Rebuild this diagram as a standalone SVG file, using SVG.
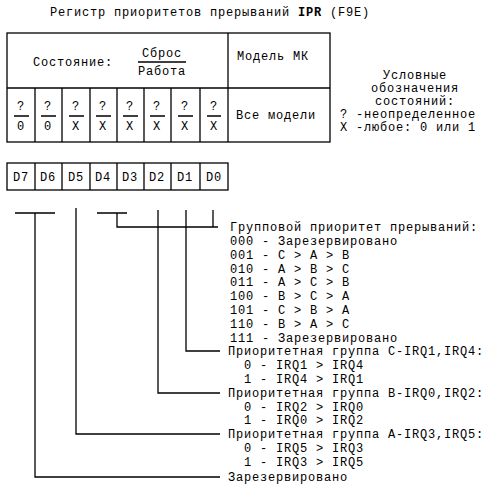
<svg xmlns="http://www.w3.org/2000/svg" width="499" height="487" viewBox="0 0 499 487">
<style>
text{font-family:"Liberation Mono","DejaVu Sans Mono",monospace;font-size:12px;letter-spacing:0.8px;fill:#000}
.c{text-anchor:middle}
.b{fill:none;stroke:#000;stroke-width:1.3}
.w{fill:none;stroke:#000;stroke-width:1.3}
</style>
<rect width="499" height="487" fill="#fff"/>
<g id="title"><text x="50" y="16">Регистр приоритетов прерываний <tspan font-weight="bold">IPR</tspan> (F9E)</text></g>
<g id="state-table">
<rect class="b" x="7" y="33" width="323" height="109"/>
<line class="b" x1="7" y1="88" x2="330" y2="88"/>
<line class="b" x1="228" y1="33" x2="228" y2="142"/>
<path class="b" d="M35 88V142M62 88V142M90 88V142M117 88V142M144 88V142M171 88V142M200 88V142"/>
<text x="33" y="66">Состояние:</text>
<text class="c" x="162" y="57">Сброс</text>
<line class="b" x1="138" y1="62" x2="186" y2="62"/>
<text class="c" x="162" y="75">Работа</text>
<text x="237" y="60">Модель МК</text>
<g class="c">
<text x="21" y="110">?</text><text x="21" y="130">0</text>
<text x="48" y="110">?</text><text x="48" y="130">0</text>
<text x="76" y="110">?</text><text x="76" y="130">X</text>
<text x="103" y="110">?</text><text x="103" y="130">X</text>
<text x="130" y="110">?</text><text x="130" y="130">X</text>
<text x="157" y="110">?</text><text x="157" y="130">X</text>
<text x="185" y="110">?</text><text x="185" y="130">X</text>
<text x="214" y="110">?</text><text x="214" y="130">X</text>
</g>
<path class="b" d="M14 116H29M41 116H56M69 116H84M96 116H111M123 116H138M150 116H165M178 116H193M207 116H221"/>
<text x="236" y="119">Все модели</text>
</g>
<g id="legend">
<text class="c" x="415" y="79">Условные</text>
<text class="c" x="415" y="92">обозначения</text>
<text class="c" x="415" y="105">состояний:</text>
<text x="340" y="118">? -неопределенное</text>
<text x="340" y="131">X -любое: 0 или 1</text>
</g>
<g id="bits">
<rect class="b" x="7" y="163" width="221" height="27"/>
<path class="b" d="M35 163V190M62 163V190M90 163V190M117 163V190M144 163V190M171 163V190M200 163V190"/>
<g class="c">
<text x="21" y="181">D7</text><text x="48" y="181">D6</text><text x="76" y="181">D5</text><text x="103" y="181">D4</text>
<text x="130" y="181">D3</text><text x="157" y="181">D2</text><text x="185" y="181">D1</text><text x="214" y="181">D0</text>
</g>
</g>
<g id="connectors" class="w">
<path d="M15 213H55M35 213V477H220"/>
<path d="M76 208V434H220"/>
<path d="M97 213H127M117 213V227H218"/>
<path d="M158 210V393H220"/>
<path d="M186 210V351H220"/>
<path d="M213 210V227"/>
</g>
<g id="group-priority">
<text x="230" y="231">Групповой приоритет прерываний:</text>
<text x="230" y="245">000 - Зарезервировано</text>
<text x="230" y="259">001 - C &gt; A &gt; B</text>
<text x="230" y="273">010 - A &gt; B &gt; C</text>
<text x="230" y="286">011 - A &gt; C &gt; B</text>
<text x="230" y="300">100 - B &gt; C &gt; A</text>
<text x="230" y="314">101 - C &gt; B &gt; A</text>
<text x="230" y="328">110 - B &gt; A &gt; C</text>
<text x="230" y="342">111 - Зарезервировано</text>
</g>
<g id="group-c">
<text x="228" y="355">Приоритетная группа C-IRQ1,IRQ4:</text>
<text x="244" y="369">0 - IRQ1 &gt; IRQ4</text>
<text x="244" y="383">1 - IRQ4 &gt; IRQ1</text>
</g>
<g id="group-b">
<text x="228" y="397">Приоритетная группа B-IRQ0,IRQ2:</text>
<text x="244" y="411">0 - IRQ2 &gt; IRQ0</text>
<text x="244" y="424">1 - IRQ0 &gt; IRQ2</text>
</g>
<g id="group-a">
<text x="228" y="438">Приоритетная группа A-IRQ3,IRQ5:</text>
<text x="244" y="452">0 - IRQ5 &gt; IRQ3</text>
<text x="244" y="466">1 - IRQ3 &gt; IRQ5</text>
</g>
<g id="reserved"><text x="228" y="481">Зарезервировано</text></g>
</svg>
